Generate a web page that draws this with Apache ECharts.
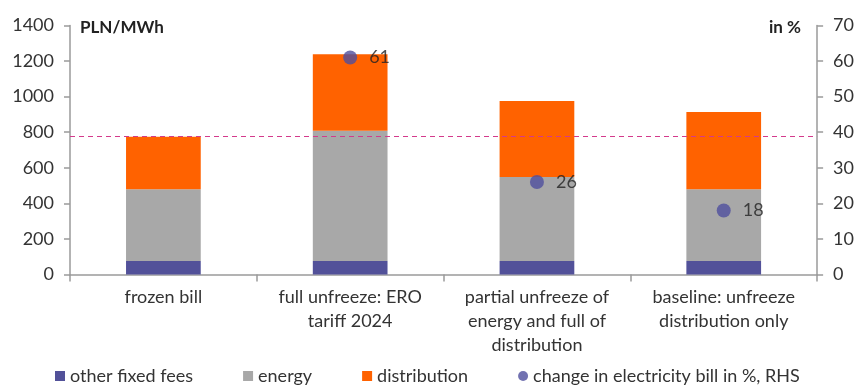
<!DOCTYPE html>
<html>
<head>
<meta charset="utf-8">
<script src="https://cdn.jsdelivr.net/npm/echarts@6/dist/echarts.min.js"></script>
<style>
  html, body { margin: 0; padding: 0; background: #fff; }
  #chart { width: 857px; height: 389px; }
</style>
</head>
<body>
<div id="chart"></div>
<script>
// Scenario categories (x axis)
const categories = [
  'frozen bill',
  'full unfreeze: ERO\ntariff 2024',
  'partial unfreeze of\nenergy and full of\ndistribution',
  'baseline: unfreeze\ndistribution only'
];
// Bill components, PLN/MWh (stacked)
const otherFixedFees = [76, 76, 76, 76];
const energy = [404, 732, 472, 404];
const distribution = [295, 431, 427, 433];
// Change in electricity bill, % (right axis)
const billChange = [null, 61, 26, 18];
// Reference level: current frozen bill total
const frozenLevel = 780;

const leftTicks = { min: 0, max: 1400, interval: 200 };
const rightTicks = { min: 0, max: 70, interval: 10 };

const FONT = 'Lato';
const TXT = '#333';
const AXIS = '#9a9a9a';
const plain = v => String(v);

const chart = echarts.init(document.getElementById('chart'), null, { renderer: 'canvas' });

chart.setOption({
  animation: false,
  textStyle: { fontFamily: FONT, color: TXT },
  grid: { left: 70, right: 38, top: 25.5, bottom: 114.5 },
  legend: {
    left: 55,
    top: 367,
    padding: 0,
    itemWidth: 10,
    itemHeight: 10,
    itemGap: 50,
    textStyle: { fontFamily: FONT, fontSize: 18, color: TXT },
    data: [
      { name: 'other fixed fees', icon: 'rect' },
      { name: 'energy', icon: 'rect' },
      { name: 'distribution', icon: 'rect' },
      { name: 'change in electricity bill in %, RHS', icon: 'circle', itemStyle: { color: '#4f4f9e' } }
    ]
  },
  xAxis: {
    type: 'category',
    data: categories,
    axisLine: { lineStyle: { color: AXIS, width: 1.5 } },
    axisTick: { show: true, length: 7, lineStyle: { color: AXIS, width: 1.5 } },
    axisLabel: { fontFamily: FONT, fontSize: 18, color: TXT, lineHeight: 24, margin: 11, interval: 0 }
  },
  yAxis: [
    {
      type: 'value',
      min: leftTicks.min, max: leftTicks.max, interval: leftTicks.interval,
      splitLine: { show: false },
      axisLine: { show: true, lineStyle: { color: AXIS, width: 1.5 } },
      axisTick: { show: true, length: 6, lineStyle: { color: AXIS, width: 1.5 } },
      axisLabel: { fontFamily: FONT, fontSize: 18, color: TXT, margin: 16, formatter: plain }
    },
    {
      type: 'value',
      min: rightTicks.min, max: rightTicks.max, interval: rightTicks.interval,
      splitLine: { show: false },
      axisLine: { show: true, lineStyle: { color: AXIS, width: 1.5 } },
      axisTick: { show: true, length: 6, lineStyle: { color: AXIS, width: 1.5 } },
      axisLabel: { fontFamily: FONT, fontSize: 18, color: TXT, margin: 16, formatter: plain }
    }
  ],
  graphic: [
    { type: 'text', left: 80, top: 19, style: { text: 'PLN/MWh', fontFamily: FONT, fontSize: 17, fontWeight: 'bold', fill: '#222' } },
    { type: 'text', right: 56, top: 19, style: { text: 'in %', fontFamily: FONT, fontSize: 17, fontWeight: 'bold', fill: '#222' } }
  ],
  series: [
    {
      name: 'other fixed fees', type: 'bar', stack: 'bill', barWidth: '40%',
      itemStyle: { color: '#525199' }, data: otherFixedFees,
      markLine: {
        silent: true, symbol: 'none',
        label: { show: false },
        lineStyle: { color: '#d43a8c', type: [5, 4], width: 1.2 },
        data: [{ yAxis: frozenLevel }]
      }
    },
    { name: 'energy', type: 'bar', stack: 'bill', itemStyle: { color: '#a8a8a8' }, data: energy },
    { name: 'distribution', type: 'bar', stack: 'bill', itemStyle: { color: '#ff6200' }, data: distribution },
    {
      name: 'change in electricity bill in %, RHS', type: 'scatter', yAxisIndex: 1,
      symbol: 'circle', symbolSize: 14,
      itemStyle: { color: '#4f4f9e' },
      label: { show: true, position: 'right', distance: 12, fontFamily: FONT, fontSize: 18, color: '#222', formatter: '{c}' },
      data: billChange
    }
  ]
});
</script>
</body>
</html>
